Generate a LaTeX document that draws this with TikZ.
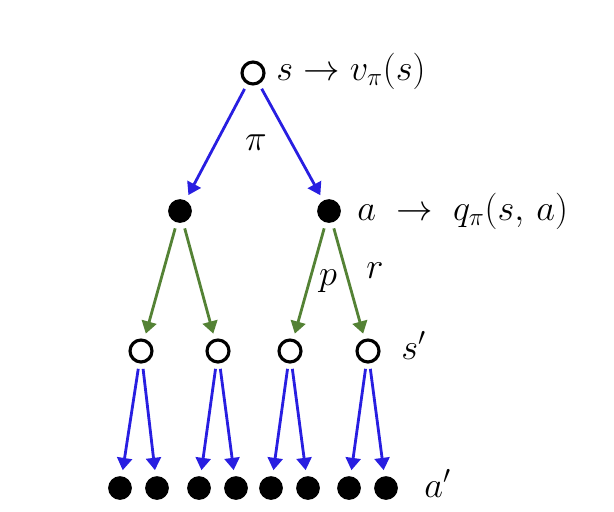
\documentclass[tikz,border=0pt]{standalone}
\usetikzlibrary{arrows.meta}
\definecolor{polblue}{RGB}{40,30,225}
\definecolor{envgreen}{RGB}{84,130,53}

\begin{document}
\begin{tikzpicture}[x=0.02cm, y=-0.02cm, >={Triangle[length=7pt,width=8.5pt]},
  state/.style={circle, draw, line width=1.8pt, minimum size=12.5pt, inner sep=0pt, outer sep=4pt},
  action/.style={circle, fill, minimum size=13.5pt, inner sep=0pt, outer sep=3.5pt},
  pol/.style={->, polblue, line width=1.6pt},
  env/.style={->, envgreen, line width=1.6pt},
  lbl/.style={font=\fontsize{20.5}{25}\selectfont, inner sep=0pt}]

  \useasboundingbox (0,0) rectangle (614,511);

  % ── tree nodes ────────────────────────────────────────────────────────────
  \node[state] (root) at (253,73) {};
  \node[action] (a1) at (180,211) {};
  \node[action] (a2) at (329,211) {};
  \foreach \x [count=\i] in {141,218,290,368}
    \node[state] (s\i) at (\x,351) {};
  \foreach \x [count=\i] in {120,157,199,236,271,308,349,386}
    \node[action] (b\i) at (\x,488) {};

  % ── policy and environment edges ─────────────────────────────────────────
  \draw[pol] (root) -- (a1);
  \draw[pol] (root) -- (a2);
  \draw[env] (a1) -- (s1);
  \draw[env] (a1) -- (s2);
  \draw[env] (a2) -- (s3);
  \draw[env] (a2) -- (s4);
  \foreach \i/\j/\k in {1/1/2, 2/3/4, 3/5/6, 4/7/8}{
    \draw[pol] (s\i) -- (b\j);
    \draw[pol] (s\i) -- (b\k);
  }

  % ── labels ────────────────────────────────────────────────────────────────
  \node[lbl, anchor=base west] (vlbl) at (276,80) {$s \rightarrow v_\pi(s)$};
  \node[lbl, anchor=base west] (qlbl) at (357,220) {$a \;\rightarrow\; q_\pi(s,\,a)$};
  \node[lbl, anchor=base] (pilbl) at (256,150) {$\pi$};
  \node[lbl, anchor=base] (plbl) at (328,285) {$p$};
  \node[lbl, anchor=base] (rlbl) at (375,278) {$r$};
  \node[lbl, anchor=base west] (slbl) at (401,359) {$s'$};
  \node[lbl, anchor=base west] (albl) at (424,497) {$a'$};

\end{tikzpicture}
\end{document}
